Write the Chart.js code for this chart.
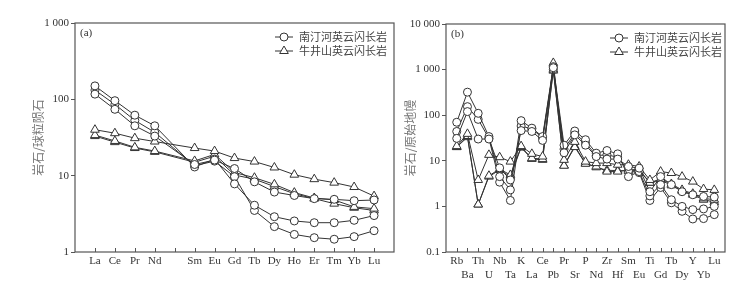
<!DOCTYPE html>
<html>
<head>
<meta charset="utf-8">
<script src="https://cdn.jsdelivr.net/npm/chart.js@4.4.1/dist/chart.umd.min.js"></script>
<style>
    html, body { margin: 0; padding: 0; background: #fff; }
    #wrap { position: relative; width: 749px; height: 282px; overflow: hidden; }
    canvas { position: absolute; top: 0; }
    #ree { left: 0; }
    #spider { left: 398px; }
</style>
</head>
<body>
<div id="wrap">
    <canvas id="ree" width="400" height="282"></canvas>
    <canvas id="spider" width="351" height="282"></canvas>
</div>
<script>
"use strict";

// (a) chondrite normalised REE, Pm left blank
var reeLabels = ["La", "Ce", "Pr", "Nd", "", "Sm", "Eu", "Gd", "Tb", "Dy", "Ho", "Er", "Tm", "Yb", "Lu"];
var reeTicks = [1, 10, 100, 1000];
var reeNth1 = [117, 74, 45, 33, null, 14, 16, 12.4, 8.3, 6.1, 5.5, 5.0, 4.9, 4.7, 4.8];
var reeNth2 = [150, 96, 62, 45, null, 13, 16.5, 7.8, 4.1, 2.9, 2.55, 2.42, 2.42, 2.6, 3.0];
var reeNth3 = [132, 86, 53, 37, null, 13.5, 15.5, 9.7, 3.5, 2.15, 1.7, 1.54, 1.47, 1.59, 1.9];
var reeNjs1 = [40, 36, 31, 28, null, 23, 21, 17, 15.3, 12.8, 10.3, 9.0, 8.1, 7.1, 5.4];
var reeNjs2 = [34, 28.5, 23.5, 21, null, 15.6, 19, 11, 9.4, 7.7, 6.0, 5.1, 4.8, 3.9, 3.7];
var reeNjs3 = [33, 27.5, 23, 20.5, null, 15, 18, 10.2, 9.0, 7.2, 5.8, 5.0, 4.3, 3.8, 3.5];

// (b) primitive mantle normalised trace elements
var spLabels = ["Rb", "Ba", "Th", "U", "Nb", "Ta", "K", "La", "Ce", "Pb", "Pr", "Sr", "P", "Nd", "Zr", "Hf", "Sm", "Eu", "Ti", "Gd", "Tb", "Dy", "Y", "Yb", "Lu"];
var spTicks = [0.1, 1, 10, 100, 1000, 10000];
var spNth1 = [31, 120, 30, 30, 7.0, 3.8, 46, 44, 28, 1100, 15, 37, 22, 12.4, 10.9, 10.9, 7.5, 6.9, 2.1, 4.5, 3.0, 2.1, 1.8, 1.65, 1.6];
var spNth2 = [70, 320, 110, 34, 4.5, 2.3, 76, 52, 34, 1160, 22, 45, 29, 14.7, 16.8, 14.2, 4.5, 5.8, 1.7, 3.0, 1.4, 1.0, 0.85, 0.88, 1.0];
var spNth3 = [44, 154, 81, 31, 3.4, 1.35, 58, 50, 32, 1000, 18, 40, 25, 13, 13.5, 12, 6.0, 5.5, 1.35, 2.6, 1.2, 0.78, 0.53, 0.54, 0.66];
var spNjs1 = [21, 39, 3.8, 13.5, 12, 9.6, 21, 14.2, 12.4, 1400, 10.5, 26, 9.6, 8.9, 8.9, 8.2, 8.2, 7.5, 3.8, 5.8, 5.4, 4.5, 3.5, 2.4, 2.3];
var spNjs2 = [20, 35, 1.1, 4.7, 6.6, 4.9, 20, 11.4, 10.9, 950, 7.8, 20, 8.6, 7.5, 5.8, 5.8, 6.3, 6.5, 3.3, 4.0, 3.1, 2.3, 1.9, 1.5, 1.4];
var spNjs3 = [20, 33, 1.1, 4.5, 6.3, 4.5, 19.5, 11, 10.5, 1000, 7.9, 21, 8.8, 7.2, 6.2, 6.1, 6.0, 6.2, 3.3, 3.8, 2.9, 2.2, 1.8, 1.4, 1.25];

var nameNth = "南汀河英云闪长岩";
var nameNjs = "牛井山英云闪长岩";

var ink = "#333";
var frameColor = "#555";
var serif = "'Liberation Serif', 'Times New Roman', serif";
var cjk = "'Noto Sans CJK SC', sans-serif";

function fmtTick(v) {
    if (v < 1) return String(v);
    return String(v).replace(/\B(?=(\d{3})+(?!\d))/g, " ");
}

function toPoints(arr) {
    return arr.map(function (v, i) {
        return { x: i, y: v };
    });
}

function series(arr, style) {
    return {
        data: toPoints(arr),
        pointStyle: style,
        pointRadius: style === "triangle" ? 5 : 4,
        pointBorderWidth: 1,
        pointBackgroundColor: "#fff",
        pointBorderColor: ink,
        borderColor: ink,
        borderWidth: 1,
        spanGaps: true,
        tension: 0,
    };
}

function drawMarker(ctx, style, x, y) {
    ctx.beginPath();
    if (style === "circle") {
        ctx.arc(x, y, 4, 0, Math.PI * 2);
    } else {
        var r = 5;
        for (var k = 0; k < 3; k++) {
            var a = k * 2 * Math.PI / 3;
            var px = x + Math.sin(a) * r, py = y - Math.cos(a) * r;
            if (k === 0) ctx.moveTo(px, py); else ctx.lineTo(px, py);
        }
        ctx.closePath();
    }
    ctx.fillStyle = "#fff";
    ctx.fill();
    ctx.stroke();
}

// frame, inward ticks, panel tag and legend
var framePlugin = {
    id: "frame",
    afterDraw: function (chart, args, opts) {
        var ctx = chart.ctx, a = chart.chartArea, xs = chart.scales.x;
        ctx.save();
        ctx.strokeStyle = frameColor;
        ctx.lineWidth = 1.2;
        ctx.strokeRect(a.left, a.top, a.right - a.left, a.bottom - a.top);

        ctx.lineWidth = 1;
        xs.ticks.forEach(function (t) {
            var px = Math.round(xs.getPixelForValue(t.value)) + 0.5;
            ctx.beginPath();
            ctx.moveTo(px, a.bottom);
            ctx.lineTo(px, a.bottom - 4);
            ctx.stroke();
        });

        ctx.fillStyle = ink;
        ctx.font = "11px " + serif;
        ctx.textBaseline = "middle";
        ctx.textAlign = "left";
        ctx.fillText(opts.tag, a.left + 5, a.top + 10);

        ctx.font = "11px " + cjk;
        var rows = [[nameNth, "circle"], [nameNjs, "triangle"]];
        rows.forEach(function (row, i) {
            var y = a.top + 14 + i * 14;
            var w = ctx.measureText(row[0]).width;
            var tx = a.right - opts.inset - w;
            ctx.fillStyle = "#444";
            ctx.fillText(row[0], tx, y);
            ctx.strokeStyle = ink;
            ctx.beginPath();
            ctx.moveTo(tx - 24, y);
            ctx.lineTo(tx - 6, y);
            ctx.stroke();
            drawMarker(ctx, row[1], tx - 15, y);
        });
        ctx.restore();
    },
};

function makeChart(id, labels, yTicks, sets, o) {
    var ctx = document.getElementById(id).getContext("2d");
    return new Chart(ctx, {
        type: "line",
        data: { datasets: sets },
        options: {
            responsive: false,
            animation: false,
            events: [],
            layout: { padding: { left: 0, right: o.padRight, top: o.padTop, bottom: 0 } },
            plugins: {
                legend: { display: false },
                tooltip: { enabled: false },
                frame: { tag: o.tag, inset: o.inset },
            },
            scales: {
                x: {
                    type: "linear",
                    min: -1,
                    max: labels.length,
                    afterBuildTicks: function (s) {
                        s.ticks = labels.map(function (l, i) {
                            return { value: i };
                        });
                    },
                    afterFit: function (s) {
                        s.height = 282 - o.padTop - o.plotH;
                    },
                    grid: { display: false, drawTicks: false },
                    border: { display: false },
                    ticks: {
                        autoSkip: false,
                        maxRotation: 0,
                        padding: 3,
                        color: ink,
                        font: { family: serif, size: 11 },
                        callback: function (v) {
                            var l = labels[v];
                            if (o.twoRows && v % 2 === 1) return ["", l];
                            return l;
                        },
                    },
                },
                y: {
                    type: "logarithmic",
                    min: yTicks[0],
                    max: yTicks[yTicks.length - 1],
                    afterBuildTicks: function (s) {
                        s.ticks = yTicks.map(function (v) {
                            return { value: v };
                        });
                    },
                    afterFit: function (s) {
                        s.width = o.yWidth;
                    },
                    grid: { drawOnChartArea: false, drawTicks: true, tickLength: 4, color: frameColor },
                    border: { display: false },
                    ticks: {
                        padding: 2,
                        color: ink,
                        font: { family: serif, size: 11 },
                        callback: function (v) {
                            return fmtTick(v);
                        },
                    },
                    title: {
                        display: true,
                        text: o.yTitle,
                        color: "#777",
                        font: { family: cjk, size: 12 },
                        padding: { top: o.titlePad, bottom: 0 },
                    },
                },
            },
        },
        plugins: [framePlugin],
    });
}

// REE chart
makeChart("ree", reeLabels, reeTicks, [
    series(reeNth1, "circle"),
    series(reeNth2, "circle"),
    series(reeNth3, "circle"),
    series(reeNjs1, "triangle"),
    series(reeNjs2, "triangle"),
    series(reeNjs3, "triangle"),
], { tag: "(a)", inset: 7, padTop: 23, plotH: 229, padRight: 6, yWidth: 75, titlePad: 31, yTitle: "岩石/球粒陨石", twoRows: false });

// Spider chart
makeChart("spider", spLabels, spTicks, [
    series(spNth1, "circle"),
    series(spNth2, "circle"),
    series(spNth3, "circle"),
    series(spNjs1, "triangle"),
    series(spNjs2, "triangle"),
    series(spNjs3, "triangle"),
], { tag: "(b)", inset: 3, padTop: 24, plotH: 228, padRight: 24, yWidth: 48, titlePad: 5, yTitle: "岩石/原始地幔", twoRows: true });
</script>
</body>
</html>
